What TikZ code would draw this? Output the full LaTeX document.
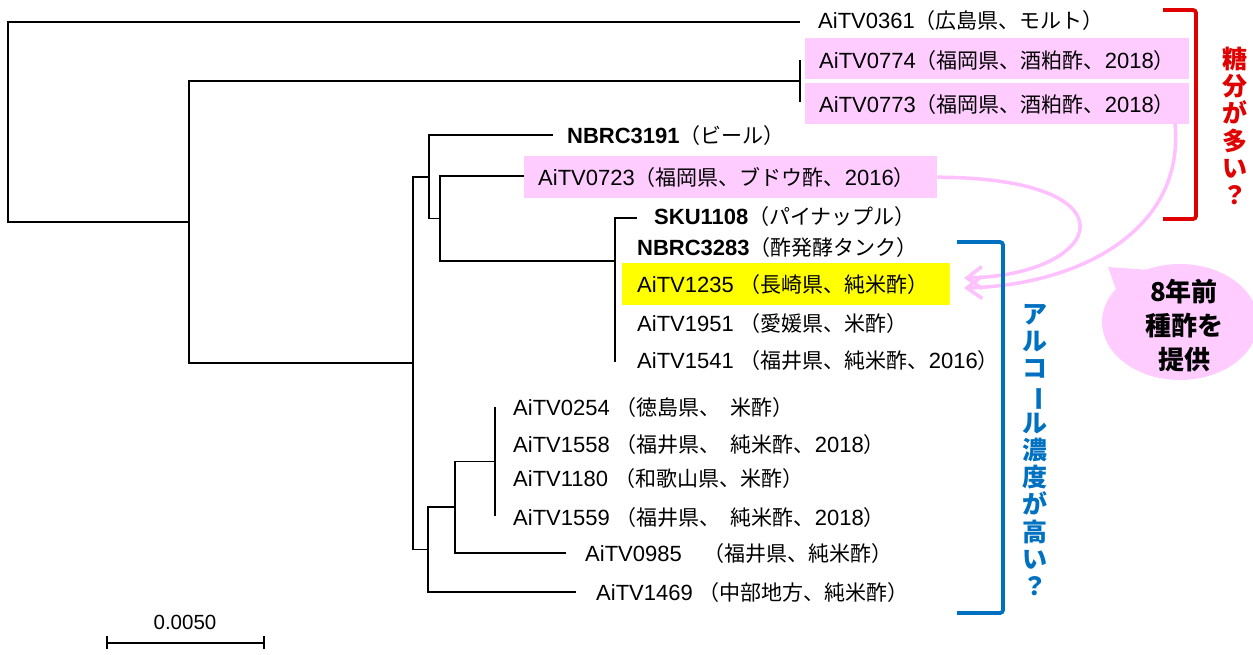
\documentclass[tikz,border=0pt]{standalone}
\usepackage{fontspec}
\usepackage{graphicx}
\setmainfont{Liberation Sans}
\newfontfamily\jpf{Noto Sans CJK JP}
\usetikzlibrary{arrows.meta}
\definecolor{pinkfill}{HTML}{FFCCFF}
\definecolor{pinkline}{HTML}{FFC0FF}
\definecolor{hlyellow}{HTML}{FFFF00}
\definecolor{brred}{HTML}{E00000}
\definecolor{brblue}{HTML}{0070C0}
\newcommand\J[1]{{\jpf\fontsize{21}{24}\selectfont #1}}
\newcommand\vbar{\rotatebox[origin=c]{-90}{ー}}
\begin{document}
\begin{tikzpicture}[x=1pt,y=-1pt,
  br/.style={line width=1.4pt},
  lbl/.style={anchor=base west, inner sep=0pt, font=\fontsize{22}{25}\selectfont},
  hbox/.style={anchor=north west, inner sep=0pt, draw=none},
  parr/.style={draw=pinkline, line width=3.5pt, -{Straight Barb[length=15pt,width=22pt]}},
  vtext/.style={align=center, inner sep=0pt, font=\jpf\bfseries\fontsize{25}{27.2}\selectfont},
  bracket/.style={line width=3.8pt, rounded corners=3pt}]
\useasboundingbox (0,0) rectangle (1253,654);

% highlight boxes
\node[hbox, fill=pinkfill, minimum width=384pt, minimum height=41pt] (b0774) at (805,38) {};
\node[hbox, fill=pinkfill, minimum width=384pt, minimum height=41pt] (b0773) at (805,83) {};
\node[hbox, fill=pinkfill, minimum width=413pt, minimum height=42pt] (b0723) at (524,156) {};
\node[hbox, fill=hlyellow, minimum width=328pt, minimum height=42pt] (b1235) at (622,263) {};

% tree coordinates
\coordinate (root) at (8,122);
\coordinate (A) at (189,222);
\coordinate (P) at (800,81);
\coordinate (B) at (413,363);
\coordinate (C) at (429,177);
\coordinate (D) at (440,218.5);
\coordinate (E) at (615,261);
\coordinate (G) at (428,549.5);
\coordinate (H) at (455,507);
\coordinate (I) at (495,461.5);
\coordinate (t0361) at (800,22);
\coordinate (t0774) at (800,60);
\coordinate (t0773) at (800,102);
\coordinate (t3191) at (553,135);
\coordinate (t0723) at (524,176);
\coordinate (tSKU) at (637,218);
\coordinate (t1541) at (615,362);
\coordinate (t0254) at (495,407);
\coordinate (t1559) at (495,516);
\coordinate (t0985) at (566,553);
\coordinate (t1469) at (576,592);

% tree branches
\draw[br] (root) |- (t0361);
\draw[br] (root) |- (A);
\draw[br] (A) |- (P);
\draw[br] (A) |- (B);
\draw[br] (t0774) -- (t0773);
\draw[br] (B) |- (C);
\draw[br] (B) |- (G);
\draw[br] (C) |- (t3191);
\draw[br] (C) |- (D);
\draw[br] (D) |- (t0723);
\draw[br] (D) |- (E);
\draw[br] (E) |- (tSKU);
\draw[br] (E) -- (t1541);
\draw[br] (G) |- (H);
\draw[br] (G) |- (t1469);
\draw[br] (H) |- (I);
\draw[br] (H) |- (t0985);
\draw[br] (t0254) -- (t1559);

% labels
\node[lbl] (l0361) at (818,28) {AiTV0361\J{（広島県、モルト）}};
\node[lbl] (l0774) at (819,68) {AiTV0774\J{（福岡県、酒粕酢、}2018\J{）}};
\node[lbl] (l0773) at (819,112) {AiTV0773\J{（福岡県、酒粕酢、}2018\J{）}};
\node[lbl] (l3191) at (567,143) {\textbf{NBRC3191}\J{（ビール）}};
\node[lbl] (l0723) at (538,185) {AiTV0723\J{（福岡県、ブドウ酢、}2016\J{）}};
\node[lbl] (lSKU) at (654,224) {\textbf{SKU1108}\J{（パイナップル）}};
\node[lbl] (l3283) at (637,255) {\textbf{NBRC3283}\J{（酢発酵タンク）}};
\node[lbl] (l1235) at (637,292) {AiTV1235 \J{（長崎県、純米酢）}};
\node[lbl] (l1951) at (637,331) {AiTV1951 \J{（愛媛県、米酢）}};
\node[lbl] (l1541) at (637,368) {AiTV1541 \J{（福井県、純米酢、}2016\J{）}};
\node[lbl] (l0254) at (513,415) {AiTV0254 \J{（徳島県、\hspace{10pt}米酢）}};
\node[lbl] (l1558) at (513,452) {AiTV1558 \J{（福井県、\hspace{10pt}純米酢、}2018\J{）}};
\node[lbl] (l1180) at (513,486) {AiTV1180 \J{（和歌山県、米酢）}};
\node[lbl] (l1559) at (513,525) {AiTV1559 \J{（福井県、\hspace{10pt}純米酢、}2018\J{）}};
\node[lbl] (l0985) at (585,561) {AiTV0985\hspace{22pt}\J{（福井県、純米酢）}};
\node[lbl] (l1469) at (596,600) {AiTV1469 \J{（中部地方、純米酢）}};

% pink arrows
\coordinate (a1e) at (964,278);
\coordinate (a2s) at (1175,124);
\coordinate (a2e) at (964,288);
\draw[parr] (b0723.east) .. controls (1140,178) and (1105,275) .. (a1e);
\draw[parr] (a2s) .. controls (1185,230) and (1080,285) .. (a2e);

% brackets
\draw[bracket, draw=brred] (1163,10) -- (1196,10) -- (1196,219) -- (1163,219);
\draw[bracket, draw=brblue] (957,242) -- (1003,242) -- (1003,613) -- (957,613);

% vertical texts
\node[vtext, text=brred] (sugar) at (1235,126) {糖\\分\\が\\多\\い\\？};
\node[vtext, text=brblue] (alc) at (1035,450) {ア\\ル\\コ\\\vbar\\ル\\濃\\度\\が\\高\\い\\？};

% speech bubble
\fill[pinkfill] (1180,322) ellipse [x radius=78pt, y radius=58pt];
\fill[pinkfill] (1118,295) -- (1108,267) -- (1150,270) -- cycle;
\node[align=center, inner sep=0pt, font=\jpf\bfseries\fontsize{26}{34}\selectfont] (bub) at (1184,326) {8年前\\種酢を\\提供};

% scale bar
\coordinate (sb1) at (107,643);
\coordinate (sb2) at (264,643);
\draw[br] (sb1) -- (sb2);
\draw[br] ([yshift=-6pt]sb1) -- ([yshift=7pt]sb1);
\draw[br] ([yshift=-6pt]sb2) -- ([yshift=7pt]sb2);
\node[inner sep=0pt, font=\fontsize{20.5}{24}\selectfont] (sbl) at (185,622) {0.0050};
\end{tikzpicture}
\end{document}
